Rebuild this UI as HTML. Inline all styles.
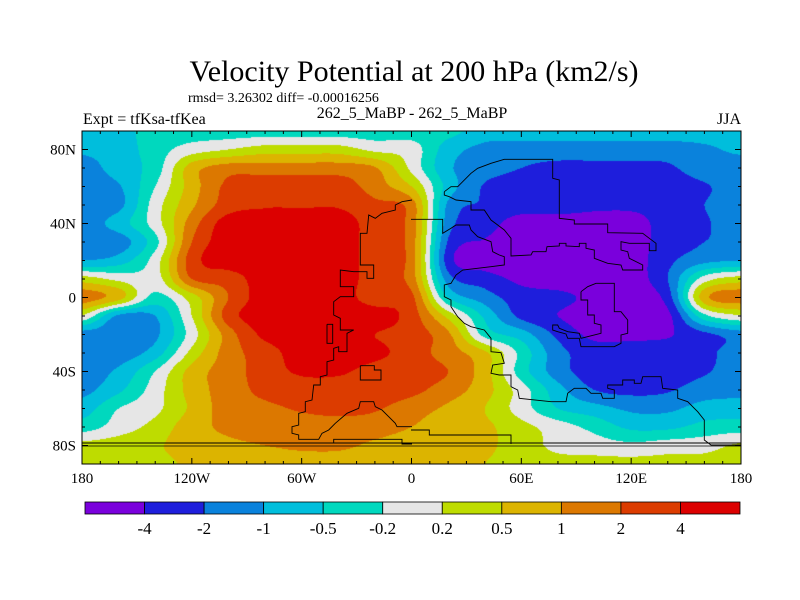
<!DOCTYPE html>
<html><head><meta charset="utf-8">
<style>
body{margin:0;background:#fff;}
#root{position:relative;width:800px;height:600px;overflow:hidden;background:#fff;font-family:"Liberation Serif",serif;color:#000;}
.t{position:absolute;white-space:nowrap;line-height:1;}
canvas{position:absolute;left:82px;top:131px;}
svg{position:absolute;left:0;top:0;}
</style></head>
<body>
<div id="root">
<div class="t" style="left:0;width:828px;text-align:center;top:57px;font-size:30px;">Velocity Potential at 200 hPa (km2/s)</div>
<div class="t" style="left:188px;top:92px;font-size:14px;">rmsd= 3.26302 diff= -0.00016256</div>
<div class="t" style="left:262px;width:300px;text-align:center;top:106px;font-size:16px;">262_5_MaBP - 262_5_MaBP</div>
<div class="t" style="left:83px;top:112px;font-size:16px;">Expt = tfKsa-tfKea</div>
<div class="t" style="left:700px;width:41px;text-align:right;top:112px;font-size:16px;">JJA</div>
<canvas id="map" width="659" height="333"></canvas>
<svg id="ov" width="800" height="600"></svg>
</div>
<script>
// contour levels and fill colours
const levels = [-4,-2,-1,-0.5,-0.2,0.2,0.5,1,2,4];
const colors = ["#7a00dc","#1e1edc","#0a82dc","#00bedc","#00d8be","#e6e6e6","#bedc00","#dcb400","#dc7800","#dc3c00","#dc0000"];
const levelLabels = ["-4","-2","-1","-0.5","-0.2","0.2","0.5","1","2","4"];
const lons = [-180,-160,-140,-120,-100,-80,-60,-40,-20,0,20,40,60,80,100,120,140,160,180];
const lats = [90,80,70,60,50,40,30,20,10,0,-10,-20,-30,-40,-50,-60,-70,-80,-90];
const xTickLabels = ["180","120W","60W","0","60E","120E","180"];
const xTickLons = [-180,-120,-60,0,60,120,180];
const yTickLabels = ["80N","40N","0","40S","80S"];
const yTickLats = [80,40,0,-40,-80];
const field = [
[-0.7,-0.7,-0.35,-0.35,-0.35,-0.35,-0.35,-0.35,-0.35,-0.35,-0.4,-0.75,-0.75,-0.75,-0.75,-0.75,-0.75,-0.75,-0.7],
[-0.9,-0.75,-0.35,0,0.2,0.35,0.35,0.35,0.1,0,-0.75,-1.3,-1.5,-1.5,-1.5,-1.5,-1.5,-1.2,-0.9],
[-1.5,-0.75,-0.35,0.75,1.5,1.5,1.5,1.5,1.1,0.1,-0.9,-1.5,-2,-2.5,-2.5,-2.5,-2.3,-1.5,-1.5],
[-1.5,-1.1,-0.2,0.75,2.5,3,3,3,1.5,0.5,-0.7,-2.2,-3,-3,-3,-3,-3,-2.2,-1.5],
[-1.5,-1.3,0,0.9,3,3.8,3.8,3.8,2.5,1.5,-1.2,-2.2,-3,-3,-3.5,-3.5,-3,-2,-1.5],
[-1.5,-0.75,0,1.5,5,5,5,5,3,1.5,-1.5,-3,-5,-5,-5,-5,-3,-2.2,-1.5],
[-1.5,-1.5,-0.3,2,5,5,5,5,3,1.5,-2.2,-4.2,-5,-5,-5,-5,-3,-2,-1.5],
[-1,-0.75,0,3,5,5,5,5,3,1.5,-3,-5,-5,-5,-5,-5,-2.5,-1.3,-1],
[0.35,0.1,0,2,3,5,5,5,3,1.5,-1.5,-3,-4.5,-5,-5,-5,-2,0,0.35],
[1.5,0.7,-0.3,0.35,2,5,5,5,3,2.5,-0.5,-1.5,-3,-3.5,-4.5,-5,-3,0.8,1.5],
[0.15,-1.2,-1,0.2,3,5,5,5,5,3,0.4,-0.6,-2.5,-4,-5,-5,-4.5,-0.3,0.15],
[-1.5,-1.5,-1.2,0,1.5,4.5,5,5,4,3,1.2,-0.3,-0.75,-2.5,-4.5,-4.5,-4.2,-2.5,-1.5],
[-1.5,-1.5,-0.75,0.3,1.5,3,5,5,4.5,3,1.5,0.6,-0.3,-1.6,-3,-3,-3,-2.5,-1.5],
[-1.5,-0.9,-0.2,0.7,1.5,3,4.3,4.3,3.3,2.8,2,0.7,-0.35,-1.5,-3,-3,-3,-2.2,-1.5],
[-1.3,-0.6,0,0.7,1.5,2.5,3,3,3,2.5,1.5,0.7,0,-0.8,-2,-2.5,-2.2,-1.5,-1.3],
[-0.75,-0.2,0.1,0.6,1.5,1.8,2.2,2.5,2.2,1.5,0.9,0.5,0,-0.5,-0.8,-1.2,-1.2,-0.8,-0.75],
[-0.35,0,0.3,0.8,1.2,1.5,1.6,1.6,1.5,1.0,0.7,0.6,0.3,0,-0.3,-0.6,-0.6,-0.4,-0.35],
[0.3,0.35,0.45,0.8,0.9,1,1.2,1.2,0.9,0.7,0.7,0.6,0.35,0.1,0,-0.1,0,0.05,0.25],
[0.35,0.35,0.4,0.6,0.7,0.7,0.75,0.75,0.7,0.5,0.6,0.5,0.35,0.3,0.3,0.3,0.3,0.3,0.35]
];
// coastline traces (map decoration, pixel coords of two zoomed halves)
const coastW = [[990,210],[960,215],[940,225],[940,240],[900,250],[880,265],[860,255],[855,310],[835,310],[835,405],[875,405],[875,445],[855,445],[855,425],[815,425],[775,420],[775,470],[815,470],[815,500],[775,500],[755,515],[755,555],[775,565],[775,600],[815,600],[795,610],[795,665],[770,665],[770,650],[755,655],[755,690],[735,695],[735,735],[715,740],[715,765],[695,765],[690,810],[670,815],[670,845],[650,850],[650,885],[630,890],[630,910],[650,915],[650,928],[710,928],[720,910],[740,900],[760,880],[795,850],[830,835],[835,815],[875,815],[880,830],[900,840],[920,860],[940,880],[945,890],[990,890]];
const coastW2 = [[755,940],[755,928],[960,928],[960,942],[990,942]];
const isl1 = [[735,583],[752,583],[752,640],[735,640],[735,583]];
const isl2 = [[835,707],[877,707],[877,720],[897,720],[897,750],[835,750],[835,707]];
const coastE = [[0,268],[95,268],[95,310],[120,295],[135,285],[175,285],[180,300],[200,320],[240,335],[245,365],[265,375],[280,380],[280,405],[240,410],[155,420],[135,435],[120,460],[100,465],[100,500],[120,510],[120,530],[140,560],[160,580],[180,590],[220,600],[240,625],[240,665],[270,668],[280,700],[245,705],[240,730],[265,735],[300,735],[300,770],[320,780],[325,805],[420,815],[465,815],[470,790],[490,775],[525,775],[540,790],[570,790],[575,805],[610,805],[610,780],[590,775],[590,765],[635,765],[635,750],[670,750],[670,760],[690,760],[695,740],[750,740],[755,775],[800,780],[800,805],[830,815],[850,835],[860,845],[880,870],[880,930],[900,945],[990,945]];
const coastN = [[100,185],[120,170],[140,170],[180,130],[200,115],[240,100],[280,88],[425,88],[425,145],[445,150],[445,265],[490,270],[490,282],[590,282],[590,308],[695,310],[715,325],[735,340],[735,362],[715,362],[715,340],[655,340],[630,335],[630,360],[650,365],[655,385],[695,405],[695,420],[635,420],[630,405],[590,400],[550,385],[550,360],[525,355],[525,340],[505,340],[505,350],[465,348],[465,340],[445,340],[445,348],[408,350],[405,365],[365,365],[360,375],[300,378],[300,325],[280,300],[260,285],[240,270],[220,240],[180,240],[180,215],[135,210],[115,200],[100,195],[100,185]];
const coastI = [[510,485],[530,470],[555,460],[610,460],[610,545],[630,545],[650,570],[650,610],[630,615],[630,640],[610,650],[510,650],[505,625],[470,625],[465,612],[440,605],[425,600],[425,585],[440,585],[445,595],[470,605],[505,610],[510,625],[570,610],[570,585],[550,580],[550,555],[530,555],[530,510],[510,510],[510,485]];
const coastS = [[0,900],[55,900],[55,915],[300,915],[300,942]];

const PX0=82, PX1=741, PY0=131, PY1=464;
function xOf(lon){return PX0+(lon+180)/360*(PX1-PX0);}
function yOf(lat){return PY0+(90-lat)/180*(PY1-PY0);}
function tOf(v){
  if(v<=levels[0]) return 1+(v-levels[0])/2;
  for(let i=0;i<levels.length-1;i++){ if(v<=levels[i+1]) return i+1+(v-levels[i])/(levels[i+1]-levels[i]); }
  return levels.length+(v-levels[levels.length-1])/2;
}
const T = field.map(r=>r.map(tOf));
function cr(p0,p1,p2,p3,t){return 0.5*((2*p1)+(-p0+p2)*t+(2*p0-5*p1+4*p2-p3)*t*t+(-p0+3*p1-3*p2+p3)*t*t*t);}
function g(r,c){r=Math.max(0,Math.min(lats.length-1,r));c=Math.max(0,Math.min(lons.length-1,c));return T[r][c];}
function sample(lon,lat){
  const fc=(lon-lons[0])/(lons[1]-lons[0]), fr=(lats[0]-lat)/(lats[0]-lats[1]);
  const c=Math.min(Math.floor(fc),lons.length-2), r=Math.min(Math.floor(fr),lats.length-2);
  const tc=fc-c, tr=fr-r, rows=[];
  for(let k=-1;k<=2;k++) rows.push(cr(g(r+k,c-1),g(r+k,c),g(r+k,c+1),g(r+k,c+2),tc));
  return cr(rows[0],rows[1],rows[2],rows[3],tr);
}
function hex(h){return [parseInt(h.substr(1,2),16),parseInt(h.substr(3,2),16),parseInt(h.substr(5,2),16)];}
const rgb=colors.map(hex);
const cv=document.getElementById('map'), ctx=cv.getContext('2d');
const W=cv.width,H=cv.height, img=ctx.createImageData(W,H);
for(let py=0;py<H;py++){for(let px=0;px<W;px++){
  const lon=-180+(px+0.5)/W*360, lat=90-(py+0.5)/H*180;
  let k=Math.floor(sample(lon,lat)); k=Math.max(0,Math.min(10,k));
  const o=(py*W+px)*4; img.data[o]=rgb[k][0];img.data[o+1]=rgb[k][1];img.data[o+2]=rgb[k][2];img.data[o+3]=255;
}}
ctx.putImageData(img,0,0);

const NS='http://www.w3.org/2000/svg', sv=document.getElementById('ov');
function mk(tag,attrs){const e=document.createElementNS(NS,tag);for(const k in attrs)e.setAttribute(k,attrs[k]);sv.appendChild(e);return e;}
function line(path,ox,name){
  const pts=path.map(p=>(ox+p[0]/3).toFixed(1)+','+(130+p[1]/3).toFixed(1)).join(' ');
  const e=mk('polyline',{points:pts,fill:'none',stroke:'#000','stroke-width':'0.9'});
  
  
}
line(coastW,82,'coastline-west');line(coastW2,82,'coastline-west-south');line(isl1,82,'island');line(isl2,82,'island');
line(coastE,411,'coastline-east');line(coastN,411,'coastline-north');line(coastI,411,'coastline-inner');line(coastS,411,'coastline-south-east');
const ant1=mk('line',{x1:PX0,x2:PX1,y1:443,y2:443,stroke:'#000','stroke-width':'0.9'});


const ant2=mk('line',{x1:PX0,x2:PX1,y1:446,y2:446,stroke:'#000','stroke-width':'0.7'});


// frame
const fr=mk('rect',{x:PX0,y:PY0,width:PX1-PX0,height:PY1-PY0,fill:'none',stroke:'#000','stroke-width':'1'});


// ticks
for(let lon=-180;lon<=180;lon+=10){
  const maj=(lon%60===0), L=maj?6:3, x=xOf(lon);
  const t1=mk('line',{x1:x,x2:x,y1:PY1,y2:PY1-L,stroke:'#000','stroke-width':'1'});
  
  
  const t2=mk('line',{x1:x,x2:x,y1:PY0,y2:PY0+L,stroke:'#000','stroke-width':'1'});
  
  
}
for(let lat=-90;lat<=90;lat+=10){
  const maj=(lat%40===0), L=maj?6:3, y=yOf(lat);
  const t1=mk('line',{x1:PX0,x2:PX0+L,y1:y,y2:y,stroke:'#000','stroke-width':'1'});
  
  
  const t2=mk('line',{x1:PX1,x2:PX1-L,y1:y,y2:y,stroke:'#000','stroke-width':'1'});
  
  
}
function txt(s,x,y,size,anchor,name){
  const e=mk('text',{x:x,y:y,'font-size':size,'text-anchor':anchor,'font-family':'Liberation Serif, serif',fill:'#000'});
  e.textContent=s;
  
  
}
xTickLabels.forEach((s,i)=>txt(s,xOf(xTickLons[i]),483,15,'middle','x-tick-label'));
yTickLabels.forEach((s,i)=>txt(s,76,yOf(yTickLats[i])+5,15,'end','y-tick-label'));
// colorbar
const CB0=85,CB1=740,CBY=502,CBH=12, bw=(CB1-CB0)/colors.length;
colors.forEach((c,i)=>{
  const r=mk('rect',{x:CB0+i*bw,y:CBY,width:bw,height:CBH,fill:c,stroke:'#000','stroke-width':'0.8'});
  
  
});
levelLabels.forEach((s,i)=>txt(s,CB0+(i+1)*bw,534,17,'middle','colorbar-label'));
</script>
</body></html>
